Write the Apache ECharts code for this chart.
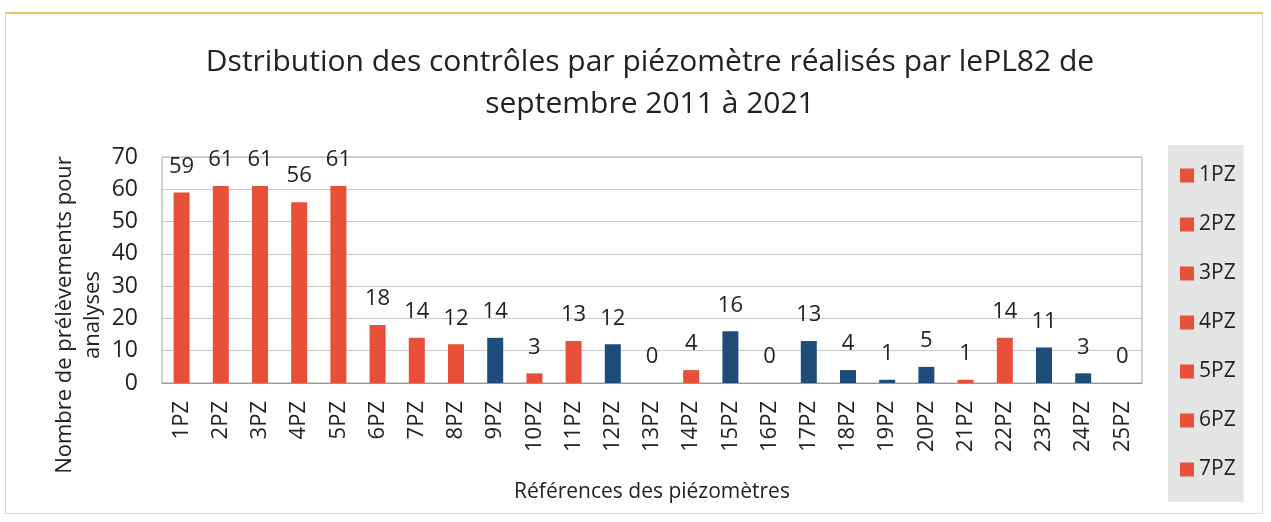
<!DOCTYPE html>
<html>
<head>
<meta charset="utf-8">
<script src="https://cdn.jsdelivr.net/npm/echarts@6/dist/echarts.min.js"></script>
<style>
  html, body { margin: 0; padding: 0; background: #fff; }
  #frame {
    position: absolute; left: 5px; top: 12px; width: 1258px; height: 502px;
    border: 1px solid #d8d8d8; border-top: 2px solid #f2c45c; box-sizing: border-box;
  }
  #main { position: absolute; left: 0; top: 0; width: 1271px; height: 522px; }
</style>
</head>
<body>
<div id="frame"></div>
<div id="main"></div>
<script>
  // categories and values
  const categories = ['1PZ', '2PZ', '3PZ', '4PZ', '5PZ', '6PZ', '7PZ', '8PZ', '9PZ', '10PZ',
    '11PZ', '12PZ', '13PZ', '14PZ', '15PZ', '16PZ', '17PZ', '18PZ', '19PZ', '20PZ',
    '21PZ', '22PZ', '23PZ', '24PZ', '25PZ'];
  const values = [59, 61, 61, 56, 61, 18, 14, 12, 14, 3, 13, 12, 0, 4, 16, 0, 13, 4, 1, 5, 1, 14, 11, 3, 0];
  // r = orange-red bar, b = dark blue bar
  const colourKind = ['r', 'r', 'r', 'r', 'r', 'r', 'r', 'r', 'b', 'r', 'r', 'b', 'b', 'r', 'b',
    'b', 'b', 'b', 'b', 'b', 'r', 'r', 'b', 'b', 'b'];
  const legendNames = ['1PZ', '2PZ', '3PZ', '4PZ', '5PZ', '6PZ', '7PZ'];
  const yTitleLines = ['Nombre de prélèvements pour', 'analyses'];

  const RED = '#e8503a';
  const BLUE = '#1f4d7a';
  const font = '"Open Sans", sans-serif';

  // one series per category, stacked so each bar sits centred on its own category
  const series = categories.map((name, i) => {
    return {
      name: name,
      type: 'bar',
      stack: 'all',
      barWidth: 16,
      itemStyle: { color: colourKind[i] === 'r' ? RED : BLUE },
      label: {
        show: true,
        position: 'top',
        distance: 15,
        fontFamily: font,
        fontSize: 22,
        color: '#222'
      },
      data: categories.map((c, j) => (j === i ? values[i] : '-'))
    };
  });

  // y axis title, one rotated text per line
  const yTitle = yTitleLines.map((line, k) => {
    return {
      type: 'text',
      x: 65 + k * 28,
      y: 315,
      rotation: Math.PI / 2,
      style: {
        text: line,
        fontFamily: font,
        fontSize: 22,
        fill: '#222',
        align: 'center',
        verticalAlign: 'middle'
      }
    };
  });

  const chart = echarts.init(document.getElementById('main'));
  chart.setOption({
    animation: false,
    title: {
      text: 'Dstribution des contrôles par piézomètre réalisés par lePL82 de\nseptembre 2011 à 2021',
      left: 645,
      top: 36,
      textAlign: 'center',
      textStyle: {
        fontFamily: font,
        fontSize: 30,
        fontWeight: 'normal',
        color: '#222',
        lineHeight: 42
      }
    },
    legend: {
      data: legendNames,
      orient: 'vertical',
      left: 1168,
      top: 145,
      width: 92,
      height: 355,
      padding: [20, 8, 22, 12],
      itemGap: 28,
      itemWidth: 14,
      itemHeight: 14,
      icon: 'rect',
      backgroundColor: '#e4e6e6',
      textStyle: { fontFamily: font, fontSize: 21, color: '#222' }
    },
    grid: {
      left: 162,
      right: 129,
      top: 157,
      bottom: 139,
      show: true,
      borderColor: '#a8a8a8',
      borderWidth: 1
    },
    graphic: yTitle,
    xAxis: {
      type: 'category',
      data: categories,
      name: 'Références des piézomètres',
      nameLocation: 'middle',
      nameGap: 99,
      nameTextStyle: { fontFamily: font, fontSize: 21, color: '#222' },
      axisLine: { lineStyle: { color: '#999' } },
      axisTick: { show: false },
      axisLabel: {
        rotate: 90,
        margin: 18,
        interval: 0,
        fontFamily: font,
        fontSize: 22,
        color: '#222'
      }
    },
    yAxis: {
      type: 'value',
      min: 0,
      max: 70,
      interval: 10,
      axisLine: { show: false },
      axisTick: { show: false },
      axisLabel: { margin: 24, fontFamily: font, fontSize: 23, color: '#222' },
      splitLine: { lineStyle: { color: '#c8c8c8' } }
    },
    series: series
  });
</script>
</body>
</html>
